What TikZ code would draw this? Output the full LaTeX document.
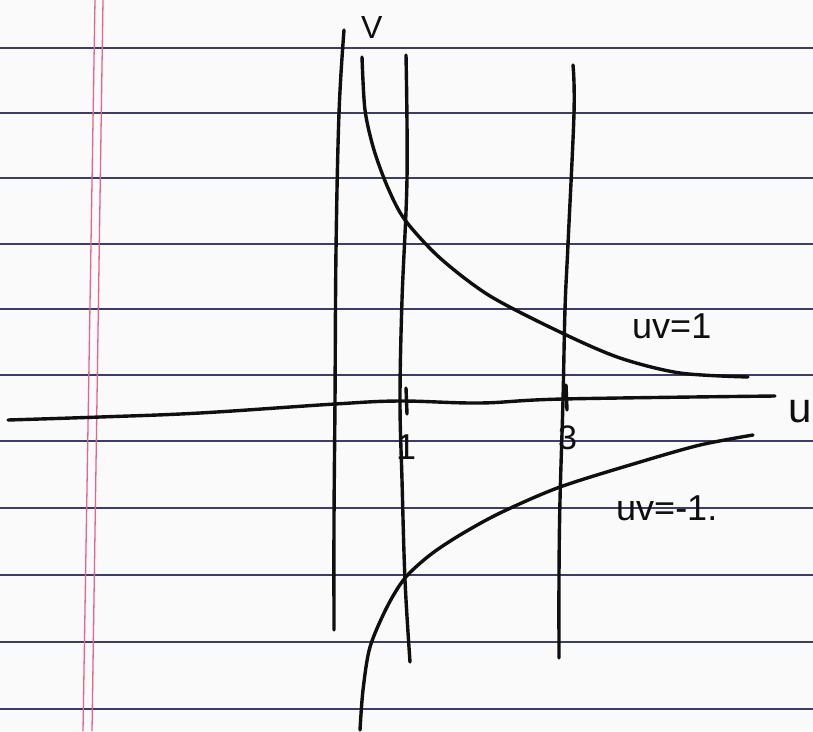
\documentclass[tikz,border=0pt]{standalone}
\usepackage{fontspec}
\setmainfont{Liberation Sans}
\definecolor{paper}{RGB}{250,250,250}
\definecolor{rulecol}{RGB}{60,60,110}
\definecolor{margincol}{RGB}{230,100,140}
\definecolor{ink}{RGB}{15,15,15}
\begin{document}
\begin{tikzpicture}[x=1pt,y=-1pt,
  pen/.style={draw=ink,line width=3.4pt,line cap=round,line join=round},
  ruled/.style={draw=rulecol,line width=1.6pt},
  marginline/.style={draw=margincol,line width=1.3pt},
  lbl/.style={text=ink,inner sep=0pt,anchor=base west}]
\fill[paper] (0,0) rectangle (813,731);
\useasboundingbox (0,0) rectangle (813,731);
% ruled paper
\foreach \yy in {48,113,178,244,309,375,441,508,575,642,709}
  \draw[ruled] (0,\yy) -- (813,\yy);
\draw[marginline] (95,0) -- (83,731);
\draw[marginline] (103,0) -- (92,731);
% u axis
\draw[pen] plot[smooth,tension=0.6] coordinates {(8,420) (100,417) (200,413) (335,404) (400,401) (480,403) (563,399) (775,396)};
% v axis and vertical lines u=1, u=3
\draw[pen] plot[smooth,tension=0.6] coordinates {(344,30) (339,113) (336,250) (335,400) (334,520) (334,630)};
\draw[pen] plot[smooth,tension=0.6] coordinates {(406,55) (407,178) (402,300) (400,400) (402,480) (405,580) (410,662)};
\draw[pen] plot[smooth,tension=0.6] coordinates {(573,65) (574,113) (568,244) (565,309) (563,400) (560,500) (559,575) (559,658)};
% ticks
\draw[pen] (406,388) -- (407,414);
\draw[pen] (566,385) -- (567,410);
% hyperbola uv=1
\draw[pen] plot[smooth] coordinates {(362,57) (365,110) (374,150) (388,188) (405,220) (440,258) (490,296) (562,333) (620,358) (680,373) (748,377)};
% hyperbola uv=-1
\draw[pen] plot[smooth] coordinates {(360,730) (363,690) (370,647) (387,607) (405,578) (430,555) (460,535) (500,513) (560,487) (640,462) (700,445) (753,435)};
% labels
\node[lbl,font=\fontsize{32}{36}\selectfont] (vlab) at (361,38) {V};
\node[lbl,font=\fontsize{42}{46}\selectfont] (ulab) at (788,422) {u};
\node[lbl,font=\fontsize{36}{40}\selectfont] (one) at (396,459) {1};
\node[lbl,font=\fontsize{34}{38}\selectfont] (three) at (558,449) {3};
\node[lbl,font=\fontsize{36}{40}\selectfont] (hp) at (632,338) {uv=1};
\node[lbl,font=\fontsize{36}{40}\selectfont] (hm) at (616,520) {uv=-1.};
\end{tikzpicture}
\end{document}
